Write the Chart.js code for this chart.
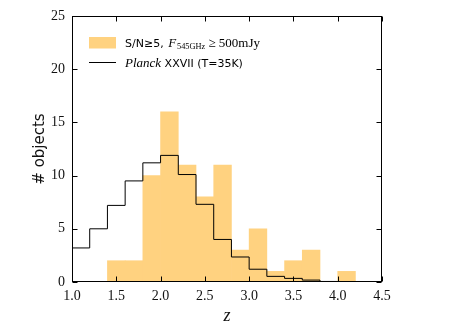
<!DOCTYPE html>
<html>
<head>
<meta charset="utf-8">
<script src="https://cdn.jsdelivr.net/npm/chart.js@4.4.1/dist/chart.umd.min.js"></script>
<style>
    html, body { margin: 0; padding: 0; background: #fff; }
</style>
</head>
<body>
<canvas id="histChart" width="449" height="336"></canvas>
<script>
// redshift bins (left edges), width 0.2
const binWidth = 0.2;
const sampleEdges = [1.0, 1.2, 1.4, 1.6, 1.8, 2.0, 2.2, 2.4, 2.6, 2.8, 3.0, 3.2, 3.4, 3.6, 3.8, 4.0];
const sampleCounts = [0, 0, 2, 2, 10, 16, 11, 8, 11, 3, 5, 1, 2, 3, 0, 1];

// Planck XXVII model, step outline (last point closes the step at z=4.0)
const planckEdges = [1.0, 1.2, 1.4, 1.6, 1.8, 2.0, 2.2, 2.4, 2.6, 2.8, 3.0, 3.2, 3.4, 3.6, 3.8, 4.0];
const planckCounts = [3.2, 5.0, 7.2, 9.5, 11.2, 11.9, 10.1, 7.3, 4.0, 2.35, 1.2, 0.53, 0.34, 0.18, 0.05, 0];

const xTicks = [1.0, 1.5, 2.0, 2.5, 3.0, 3.5, 4.0, 4.5];
const yTicks = [0, 5, 10, 15, 20, 25];

// orange at alpha 0.5 over white, kept opaque so adjacent bars leave no seams
const fillColor = '#ffd280';
const serif = '"Liberation Serif", "DejaVu Serif", serif';
const sans = '"DejaVu Sans", sans-serif';

// inward ticks on all four sides plus the closed frame
const frameTicks = {
    id: 'frameTicks',
    afterDatasetsDraw(chart) {
        const { ctx, chartArea: a, scales: { x, y } } = chart;
        const L = Math.round(a.left) + 0.5;
        const R = Math.round(a.right) - 0.5;
        const T = Math.round(a.top) + 0.5;
        const B = Math.round(a.bottom) - 0.5;
        ctx.save();
        ctx.strokeStyle = '#000';
        ctx.lineWidth = 1;
        ctx.beginPath();
        xTicks.forEach((v) => {
            const px = Math.round(x.getPixelForValue(v)) + 0.5;
            ctx.moveTo(px, B); ctx.lineTo(px, B - 5);
            ctx.moveTo(px, T); ctx.lineTo(px, T + 5);
        });
        yTicks.forEach((v) => {
            const py = Math.round(y.getPixelForValue(v)) + 0.5;
            ctx.moveTo(L, py); ctx.lineTo(L + 5, py);
            ctx.moveTo(R, py); ctx.lineTo(R - 5, py);
        });
        ctx.stroke();
        ctx.strokeRect(L, T, R - L, B - T);
        ctx.restore();
    },
};

// legend in the upper left of the axes, with mixed fonts
const histLegend = {
    id: 'histLegend',
    afterDraw(chart) {
        const { ctx } = chart;
        const put = (text, font, x, y) => {
            ctx.font = font;
            ctx.fillText(text, x, y);
            return x + ctx.measureText(text).width;
        };
        ctx.save();
        ctx.fillStyle = fillColor;
        ctx.fillRect(89, 37, 27, 11.5);
        ctx.fillStyle = '#000';
        ctx.textBaseline = 'alphabetic';
        let x = 125;
        x = put('S/N\u22655, ', `11px ${sans}`, x, 46.5);
        x = put('F', `italic 13px ${serif}`, x + 1, 46.5);
        x = put('545GHz', `8.3px ${serif}`, x + 1, 49);
        x = put(' \u2265 ', `13px ${serif}`, x, 46.5);
        put('500mJy', `13px ${serif}`, x, 46.5);

        ctx.strokeStyle = '#000';
        ctx.lineWidth = 1;
        ctx.beginPath();
        ctx.moveTo(89, 62.5);
        ctx.lineTo(116, 62.5);
        ctx.stroke();
        x = put('Planck', `italic 13px ${serif}`, 125, 67);
        put(' XXVII (T=35K)', `11px ${sans}`, x, 67);
        ctx.restore();
    },
};

new Chart(document.getElementById('histChart'), {
    type: 'bar',
    data: {
        datasets: [
            {
                type: 'bar',
                label: 'S/N\u22655, F545GHz \u2265 500mJy',
                data: sampleEdges.map((e, i) => ({ x: e + binWidth / 2, y: sampleCounts[i] })),
                backgroundColor: fillColor,
                borderWidth: 0,
                barPercentage: 1,
                categoryPercentage: 1,
                grouped: false,
                order: 2,
            },
            {
                type: 'line',
                label: 'Planck XXVII (T=35K)',
                data: planckEdges.map((e, i) => ({ x: e, y: planckCounts[i] })),
                borderColor: '#000',
                borderWidth: 1,
                pointRadius: 0,
                stepped: 'before',
                fill: false,
                order: 1,
            },
        ],
    },
    options: {
        responsive: false,
        animation: false,
        devicePixelRatio: 1,
        layout: { padding: { top: 16, right: 67, left: 0, bottom: 0 } },
        plugins: {
            legend: { display: false },
            tooltip: { enabled: false },
        },
        scales: {
            x: {
                type: 'linear',
                min: 1.0,
                max: 4.5,
                offset: false,
                afterFit: (scale) => { scale.height = 54; },
                afterBuildTicks: (scale) => { scale.ticks = xTicks.map((v) => ({ value: v })); },
                grid: { display: false, drawTicks: false, offset: false },
                border: { display: false },
                ticks: {
                    padding: 6,
                    color: '#111',
                    font: { family: serif, size: 14 },
                    callback: (v) => Number(v).toFixed(1),
                    maxRotation: 0,
                },
                title: {
                    display: true,
                    text: 'z',
                    color: '#111',
                    font: { family: serif, size: 18, style: 'italic' },
                    padding: { top: 0, bottom: 9 },
                },
            },
            y: {
                min: 0,
                max: 25,
                afterFit: (scale) => { scale.width = 72; },
                afterBuildTicks: (scale) => { scale.ticks = yTicks.map((v) => ({ value: v })); },
                grid: { display: false, drawTicks: false },
                border: { display: false },
                ticks: {
                    padding: 7,
                    color: '#111',
                    font: { family: serif, size: 14 },
                },
                title: {
                    display: true,
                    text: '# objects',
                    color: '#111',
                    font: { family: sans, size: 15 },
                    padding: { top: 31, bottom: 0 },
                },
            },
        },
    },
    plugins: [frameTicks, histLegend],
});
</script>
</body>
</html>
